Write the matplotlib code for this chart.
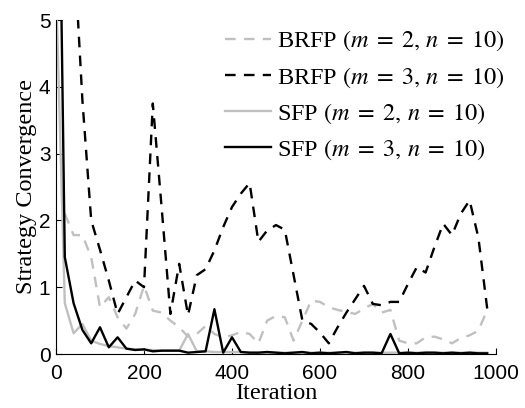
import numpy as np
import matplotlib
matplotlib.use("Agg")
import matplotlib.pyplot as plt

# ---- data ----
iterations = np.arange(0, 1000, 20)
brfp_m2 = [np.nan, 2.1, 1.78, 1.78, 1.45, 0.7, 0.85, 0.55, 0.38, 0.6,
           1.02, 0.65, 0.62, 0.5, 0.4, 0.26, 0.3, 0.42, 0.3, 0.25,
           0.28, 0.33, 0.3, 0.16, 0.5, 0.57, 0.55, 0.2, 0.5, 0.8,
           0.78, 0.7, 0.66, 0.63, 0.6, 0.68, 0.75, 0.62, 0.66, 0.2,
           0.16, 0.16, 0.25, 0.26, 0.22, 0.16, 0.24, 0.28, 0.35, 0.66]
brfp_m3 = [14, 9, 6.2, 3.8, 2.0, 1.56, 1.1, 0.6, 0.85, 1.1,
           1.0, 3.75, 2.2, 0.6, 1.35, 0.58, 1.18, 1.27, 1.55, 1.9,
           2.2, 2.4, 2.56, 1.68, 1.85, 1.93, 1.86, 1.18, 0.5, 0.45,
           0.32, 0.16, 0.4, 0.62, 0.82, 1.02, 0.75, 0.73, 0.78, 0.78,
           1.05, 1.3, 1.22, 1.6, 1.95, 1.78, 2.1, 2.3, 1.74, 0.68]
sfp_m2 = [5.5, 0.76, 0.31, 0.45, 0.2, 0.15, 0.12, 0.1, 0.08, 0.07,
          0.06, 0.06, 0.05, 0.05, 0.05, 0.3, 0.04, 0.04, 0.03, 0.03,
          0.03, 0.03, 0.02, 0.02, 0.02, 0.02, 0.02, 0.02, 0.02, 0.02,
          0.02, 0.02, 0.02, 0.02, 0.02, 0.02, 0.02, 0.02, 0.02, 0.02,
          0.02, 0.02, 0.02, 0.02, 0.02, 0.02, 0.02, 0.02, 0.02, 0.02]
sfp_m3 = [11, 1.45, 0.76, 0.36, 0.16, 0.4, 0.1, 0.25, 0.08, 0.06,
          0.07, 0.04, 0.05, 0.05, 0.05, 0.02, 0.03, 0.04, 0.67, 0.02,
          0.25, 0.03, 0.02, 0.02, 0.03, 0.02, 0.01, 0.02, 0.03, 0.01,
          0.02, 0.01, 0.02, 0.03, 0.01, 0.02, 0.02, 0.01, 0.3, 0.01,
          0.02, 0.01, 0.02, 0.02, 0.01, 0.02, 0.01, 0.02, 0.01, 0.01]
labels = [r"BRFP $(m\;=\;2,\,n\;=\;10)$", r"BRFP $(m\;=\;3,\,n\;=\;10)$",
          r"SFP $(m\;=\;2,\,n\;=\;10)$", r"SFP $(m\;=\;3,\,n\;=\;10)$"]
xticks = [0, 200, 400, 600, 800, 1000]
yticks = [0, 1, 2, 3, 4, 5]

# ---- style ----
plt.rcParams["mathtext.fontset"] = "stix"
serif = ["Liberation Serif", "DejaVu Serif"]
sans = ["Liberation Sans", "DejaVu Sans"]
gray = "#c0c0c0"

W, H = 525, 408
fig = plt.figure(figsize=(W / 100, H / 100), dpi=100)
ax = fig.add_axes([56 / W, 1 - 354 / H, (496 - 56) / W, (354 - 20) / H])

lw = 1.7
dash = (4.5, 3.5)
ax.plot(iterations, brfp_m2, color=gray, lw=lw, dashes=dash, label=labels[0])
ax.plot(iterations, brfp_m3, color="black", lw=lw, dashes=dash, label=labels[1])
ax.plot(iterations, sfp_m2, color=gray, lw=lw, label=labels[2])
ax.plot(iterations, sfp_m3, color="black", lw=lw, label=labels[3])

ax.set_xlim(0, 1000)
ax.set_ylim(0, 5)
ax.set_xticks(xticks)
ax.set_yticks(yticks)
ax.set_xticklabels([str(t) for t in xticks], family=sans, fontsize=15)
ax.set_yticklabels([str(t) for t in yticks], family=sans, fontsize=15)
ax.tick_params(direction="in", length=4, width=0.8, pad=4)
ax.tick_params(axis="x", pad=7)
for s in ["top", "right"]:
    ax.spines[s].set_visible(False)
for s in ["left", "bottom"]:
    ax.spines[s].set_linewidth(0.8)

ax.set_xlabel("Iteration", family=serif, fontsize=17.5, labelpad=0)
ax.set_ylabel("Strategy Convergence", family=serif, fontsize=17.5, labelpad=1)

leg = ax.legend(loc="upper left", bbox_to_anchor=(225 / W, 1 - 29 / H),
                bbox_transform=fig.transFigure, frameon=False,
                prop={"family": serif, "size": 17.5}, handlelength=1.9,
                handletextpad=0.25, labelspacing=0.48, borderpad=0,
                borderaxespad=0)

fig.savefig("out.png", dpi=100)
